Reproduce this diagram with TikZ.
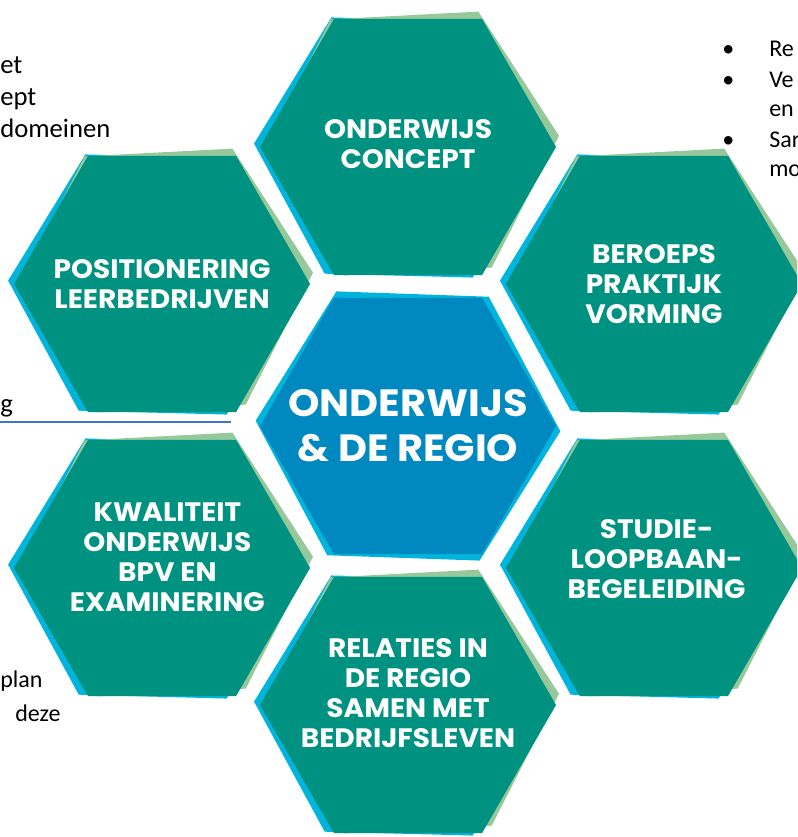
\documentclass[tikz,border=0pt]{standalone}
\usepackage{fontspec}
\setmainfont{Carlito}
\newfontfamily\hexfont{Poppins}[FakeStretch=1.05]
\usepackage{tikz}
\usetikzlibrary{shapes.geometric}
\usetikzlibrary{calc}

\definecolor{hexteal}{HTML}{009280}
\definecolor{hexcyan}{HTML}{00B4DC}
\definecolor{hexgreen}{HTML}{96C89B}
\definecolor{hexblue}{HTML}{0089C0}
\definecolor{rulecolor}{HTML}{4472C4}

\tikzset{
    hexnode/.style = {regular polygon, regular polygon sides=6, inner sep=0pt, outer sep=0pt, minimum size=222pt},
    teal_hex/.style = {hexnode, fill=hexteal},
    blue_hex/.style = {hexnode, fill=hexblue},
    cyan_hex/.style = {hexnode, fill=hexcyan, rotate=-1.5, xshift=-4.5pt, yshift=-0.5pt},
    green_hex/.style = {hexnode, fill=hexgreen, rotate=3, xshift=2.5pt, yshift=2.5pt},
    halo_hex/.style = {hexnode, fill=hexcyan, rotate=-2, scale=1.03},
    hex_text/.style = {align=center, text=white, inner sep=0pt, font=\hexfont\bfseries\fontsize{20}{22.5}\selectfont},
    hub_text/.style = {hex_text, font=\hexfont\bfseries\fontsize{28.5}{34}\selectfont},
    side_text/.style = {anchor=base west, inner sep=0pt, font=\fontsize{18}{22}\selectfont},
    big_side_text/.style = {side_text, font=\fontsize{20}{24}\selectfont}
}

\begin{document}
\begin{tikzpicture}[x=0.75pt, y=0.75pt]
    \useasboundingbox (0,0) rectangle (797,837);
    \clip (0,0) rectangle (797,837);

    % honeycomb centres
    \coordinate (hub) at (408,411);
    \coordinate (concept_c)   at ($(hub)+(90:279)$);
    \coordinate (beroeps_c)   at ($(hub)+(30:284)$);
    \coordinate (studie_c)    at ($(hub)+(-30:284)$);
    \coordinate (relaties_c)  at ($(hub)+(-90:279)$);
    \coordinate (kwaliteit_c) at ($(hub)+(-150:284)$);
    \coordinate (position_c)  at ($(hub)+(150:284)$);

    % middle tile
    \node [halo_hex] (hub_back) at (hub) {};
    \node [blue_hex] (hub_tile) at (hub) {};
    \node [hub_text] (hub_label) at (hub_tile) {ONDERWIJS\\\& DE REGIO};

    % outer tiles
    \node [cyan_hex] (concept_back) at (concept_c) {};
    \node [green_hex] (concept_edge) at (concept_c) {};
    \node [teal_hex] (concept) at (concept_c) {};
    \node [hex_text] (concept_label) at ([yshift=2pt]concept) {ONDERWIJS\\CONCEPT};

    \node [cyan_hex] (beroeps_back) at (beroeps_c) {};
    \node [green_hex] (beroeps_edge) at (beroeps_c) {};
    \node [teal_hex] (beroeps) at (beroeps_c) {};
    \node [hex_text] (beroeps_label) at (beroeps) {BEROEPS\\PRAKTIJK\\VORMING};

    \node [cyan_hex] (studie_back) at (studie_c) {};
    \node [green_hex] (studie_edge) at (studie_c) {};
    \node [teal_hex] (studie) at (studie_c) {};
    \node [hex_text] (studie_label) at ([xshift=2pt, yshift=7pt]studie) {STUDIE-\\LOOPBAAN-\\BEGELEIDING};

    \node [cyan_hex] (relaties_back) at (relaties_c) {};
    \node [green_hex] (relaties_edge) at (relaties_c) {};
    \node [teal_hex] (relaties) at (relaties_c) {};
    \node [hex_text] (relaties_label) at ([yshift=9pt]relaties) {RELATIES IN\\DE REGIO\\SAMEN MET\\BEDRIJFSLEVEN};

    \node [cyan_hex] (kwaliteit_back) at (kwaliteit_c) {};
    \node [green_hex] (kwaliteit_edge) at (kwaliteit_c) {};
    \node [teal_hex] (kwaliteit) at (kwaliteit_c) {};
    \node [hex_text] (kwaliteit_label) at ([xshift=4pt, yshift=8pt]kwaliteit) {KWALITEIT\\ONDERWIJS\\BPV EN\\EXAMINERING};

    \node [cyan_hex] (position_back) at (position_c) {};
    \node [green_hex] (position_edge) at (position_c) {};
    \node [teal_hex] (position) at (position_c) {};
    \node [hex_text] (position_label) at (position) {POSITIONERING\\LEERBEDRIJVEN};

    % notes around the comb
    \node [big_side_text] (note_et) at (0,763) {et};
    \node [big_side_text] (note_ept) at (0,731) {ept};
    \node [big_side_text] (note_domeinen) at (0,699) {domeinen};

    \node [side_text] (bullet_re) at (722,780) {•};
    \node [side_text] (note_re) at (769,780) {Re};
    \node [side_text] (bullet_ve) at (722,749) {•};
    \node [side_text] (note_ve) at (769,749) {Ve};
    \node [side_text] (note_en) at (769,720) {en};
    \node [side_text] (bullet_sar) at (722,689) {•};
    \node [side_text] (note_sar) at (769,689) {Sar};
    \node [side_text] (note_mo) at (769,660) {mo};

    \node [big_side_text] (note_g) at (0,424) {g};
    \coordinate (rule_start) at (0,415);
    \coordinate (rule_end) at (231,415);
    \draw [rulecolor, line width=1.1pt] (rule_start) -- (rule_end);

    \node [side_text] (note_plan) at (0,149) {plan};
    \node [side_text] (note_deze) at (15,115) {deze};
\end{tikzpicture}
\end{document}
